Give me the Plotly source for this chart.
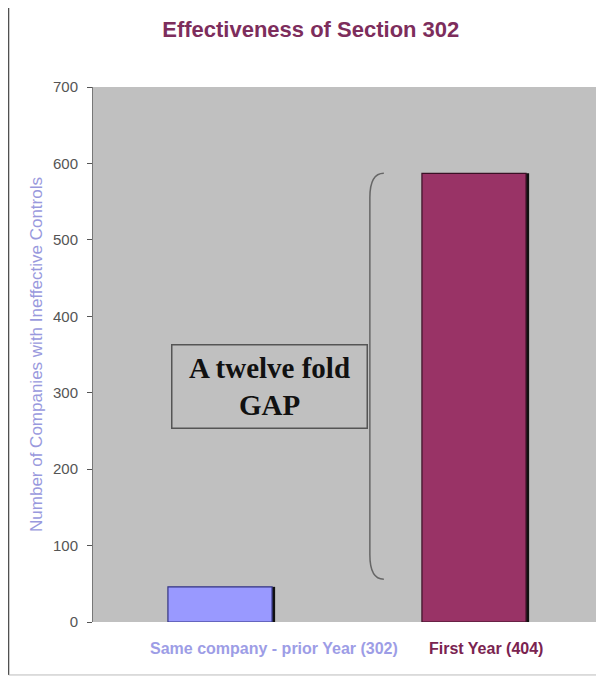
import plotly.graph_objects as go

categories = ["Same company - prior Year (302)", "First Year (404)"]
values = [46, 587]
bar_colors = ["#9999ff", "#993366"]
label_colors = ["#9d9de6", "#7a2350"]
y_ticks = [0, 100, 200, 300, 400, 500, 600, 700]

xs = list(range(len(categories)))
bw = 0.41

fig = go.Figure()
# drop shadow on right edge
fig.add_trace(go.Bar(x=[x + bw / 2 + 0.006 for x in xs], y=values, width=0.012,
                     marker=dict(color="#111111", line=dict(width=0)),
                     hoverinfo="skip", showlegend=False))
fig.add_trace(go.Bar(x=xs, y=values, width=bw,
                     marker=dict(color=bar_colors, line=dict(color=["#333380", "#3a1025"], width=1.2)),
                     showlegend=False))

# brace between the bar tops
top = values[1]
bot = values[0] + 10
bx, cx = 0.59, 0.645
curl = 32
fig.add_shape(type="path", xref="x", yref="y",
              path=f"M {cx},{top} Q {bx},{top} {bx},{top-curl} L {bx},{bot+curl} Q {bx},{bot} {cx},{bot}",
              line=dict(color="#666666", width=1.5))

fig.add_annotation(x=0.193, y=308, xref="x", yref="y", showarrow=False,
                   text="<b>A twelve fold<br>GAP</b>",
                   font=dict(family="Liberation Serif", size=29, color="#111111"),
                   width=192, height=80, bordercolor="#555555", borderwidth=1.5,
                   bgcolor="#c0c0c0", align="center")

# category labels
shifts = [54, 12]
for x, c, col, s in zip(xs, categories, label_colors, shifts):
    fig.add_annotation(x=x, y=-0.05, xref="x", yref="paper", showarrow=False,
                       yanchor="middle", xanchor="center",
                       text=f"<b>{c}</b>", xshift=s,
                       font=dict(family="Arial", size=16, color=col))

# outer frame lines (left and bottom)
fig.add_shape(type="line", xref="paper", yref="paper", x0=-0.166, x1=-0.166, y0=-0.099, y1=1.2,
              line=dict(color="#444444", width=1.2))
fig.add_shape(type="line", xref="paper", yref="paper", x0=-0.166, x1=1.02, y0=-0.099, y1=-0.099,
              line=dict(color="#bbbbbb", width=1))

fig.update_layout(
    width=596, height=669,
    margin=dict(l=85, r=3, t=79, b=55),
    paper_bgcolor="white", plot_bgcolor="#c0c0c0",
    barmode="overlay",
    title=dict(text="<b>Effectiveness of Section 302</b>", x=0.508, xanchor="center",
               y=0.968, yanchor="middle",
               font=dict(family="Arial", size=22, color="#7d2d5c")),
    xaxis=dict(range=[-0.5, 1.5], showticklabels=False, ticks="", showgrid=False,
               zeroline=False, showline=False, fixedrange=True),
    yaxis=dict(range=[0, 700], tickvals=y_ticks, ticks="outside", ticklen=5,
               tickcolor="#555555", showline=True, linecolor="#777777", linewidth=1,
               showgrid=False, zeroline=False, ticklabelstandoff=6,
               tickfont=dict(family="Arial", size=15, color="#555555"),
               title=dict(text="Number of Companies with Ineffective Controls",
                          font=dict(family="Arial", size=17, color="#9999dd"), standoff=6)),
)

fig.write_html("out.html")
